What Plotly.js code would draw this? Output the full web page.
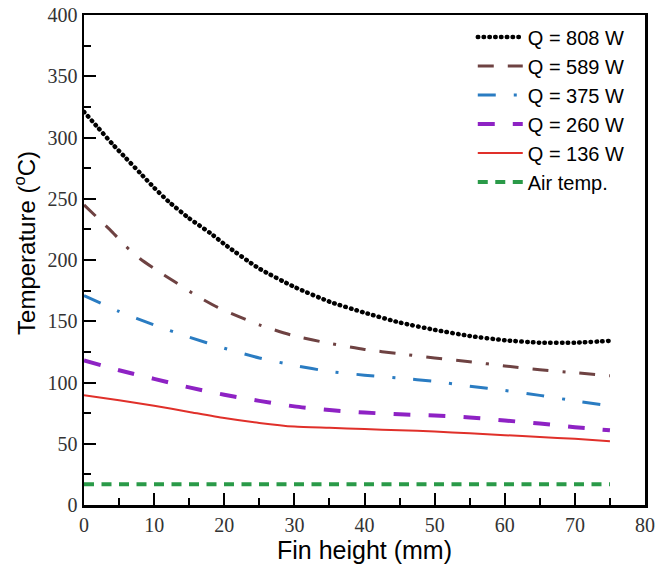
<!DOCTYPE html>
<html><head><meta charset="utf-8">
<script src="https://cdn.plot.ly/plotly-3.0.1.min.js"></script>
<style>html,body{margin:0;padding:0;background:#fff}#chart{width:656px;height:573px}
.scatterlayer .trace:first-child .js-line{stroke-linecap:round !important}
.legend .traces:first-child .js-line{stroke-linecap:round !important}
</style>
</head><body><div id="chart"></div>
<script>
const seriesNames = ["Q = 808 W","Q = 589 W","Q = 375 W","Q = 260 W","Q = 136 W","Air temp."];
const x808 = [0,2,4,6,8,10,12,15,18,20,25,30,35,40,45,50,55,60,65,70,75];
const y808 = [321,308,295,283,271,259,248,234,222,213,193,178,166,157,149,143,138,134.5,132.5,132.5,134];
const x589 = [0,2,4,6,8,10,13,16,19,22,25,30,35,40,45,50,55,60,65,70,75];
const y589 = [245,234,223,211,201,193,182,171,161.5,154,147,138,132,127,123.5,120,117,113.5,110.5,108,105.5];
const x375 = [0,5,10,15,20,25,30,35,40,45,50,55,60,65,70,75];
const y375 = [171,158,147,137,128,120,114,109,106,103.5,101,97,93.5,89.5,85,81];
const x260 = [0,5,10,15,20,25,30,35,40,45,50,55,60,65,70,75];
const y260 = [118,110,103,96,90,85,80.5,77.5,75.5,74,73,71.5,69,66.5,63.5,61];
const x136 = [0,5,10,15,20,25,30,35,40,45,50,55,60,65,70,75];
const y136 = [89.5,85.5,81,76,71,67,64,63,62,61,60,58.5,57,55.5,54,52];
const xAir = [0,75];
const yAir = [17,17];
const xTicks = [0,10,20,30,40,50,60,70,80];
const yTicks = [0,50,100,150,200,250,300,350,400];
const xTitle = 'Fin height (mm)';
const yTitle = 'Temperature (<sup>o</sup>C)';

const styles = [
  {color:'#000000', width:4.5, dash:'0.5px,5.3px'},
  {color:'#6e4242', width:3, dash:'16px,14px,16px,14px,3px,14px'},
  {color:'#2a7cc2', width:3, dash:'18px,18px,3px,18px'},
  {color:'#8e22c4', width:4, dash:'17px,18px'},
  {color:'#e0302a', width:2, dash:'solid'},
  {color:'#2a9a48', width:4, dash:'10px,7.5px'}
];
const xs = [x808,x589,x375,x260,x136,xAir];
const ys = [y808,y589,y375,y260,y136,yAir];
const data = seriesNames.map((n,i)=>({
  type:'scatter', mode:'lines', name:n, x:xs[i], y:ys[i],
  line:{color:styles[i].color, width:styles[i].width, dash:styles[i].dash, shape:'spline', smoothing:0.6}
}));

const serif = 'Liberation Serif';
const sans = 'Liberation Sans';
const tickFont = {family:serif, size:20, color:'#333333'};
const titleFont = {family:sans, size:25, color:'#000'};
const axisCommon = {ticks:'inside', ticklen:12, tickwidth:2, tickcolor:'#000',
  showline:true, linewidth:2.5, linecolor:'#000', mirror:true, showgrid:false, zeroline:false, tickfont:tickFont};
const layout = {
  width:656, height:573,
  margin:{l:84, r:11, t:15, b:68},
  paper_bgcolor:'#fff', plot_bgcolor:'#fff',
  font:{family:serif, size:20, color:'#333333'},
  showlegend:true,
  legend:{x:0.693, y:0.995, xanchor:'left', yanchor:'top', bgcolor:'rgba(0,0,0,0)', borderwidth:0,
    font:{family:sans, size:20, color:'#000'}, itemwidth:45},
  xaxis:Object.assign({}, axisCommon, {range:[0,80], tickmode:'array', tickvals:xTicks, ticktext:xTicks.map(String),
    minor:{dtick:5, ticks:'inside', ticklen:7, tickwidth:2, tickcolor:'#000', showgrid:false},
    title:{text:xTitle, font:titleFont, standoff:3}}),
  yaxis:Object.assign({}, axisCommon, {range:[0,400], tickmode:'array', tickvals:yTicks, ticktext:yTicks.map(String),
    minor:{dtick:25, ticks:'inside', ticklen:7, tickwidth:2, tickcolor:'#000', showgrid:false},
    title:{text:''}}),
  annotations:[{text:yTitle, textangle:-90, xref:'paper', yref:'paper', x:-0.105, y:0.535,
    xanchor:'center', yanchor:'middle', showarrow:false, font:{family:sans, size:24, color:'#000'}}]
};
Plotly.newPlot('chart', data, layout, {staticPlot:true, displayModeBar:false});
</script></body></html>
